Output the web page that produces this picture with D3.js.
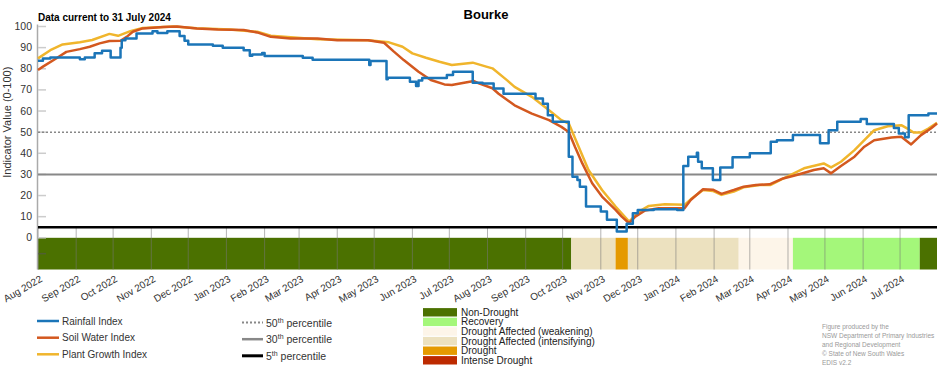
<!DOCTYPE html>
<html>
<head>
<meta charset="utf-8">
<script src="https://cdn.jsdelivr.net/npm/d3@7"></script>
<style>
    body { margin: 0; background: #fff; }
    svg { display: block; font-family: "Liberation Sans", Arial, sans-serif; }
</style>
</head>
<body>
<div class="chart"></div>
<script>
const rainfall = [
    ["2022-08-01", 83.8], ["2022-08-05", 84.9], ["2022-08-11", 85.3], ["2022-09-04", 84.5],
    ["2022-09-08", 85.3], ["2022-09-16", 87.3], ["2022-09-22", 88.5], ["2022-09-29", 85.3],
    ["2022-10-07", 90.0], ["2022-10-08", 93.5], ["2022-10-11", 94.3], ["2022-10-20", 96.7],
    ["2022-11-02", 97.8], ["2022-11-06", 96.9], ["2022-11-14", 97.8], ["2022-11-24", 95.5],
    ["2022-11-28", 93.2], ["2022-12-01", 91.5], ["2022-12-21", 90.9], ["2022-12-29", 89.9],
    ["2023-01-15", 88.8], ["2023-01-20", 86.2], ["2023-01-22", 86.8], ["2023-01-30", 87.4],
    ["2023-02-01", 86.0], ["2023-03-04", 85.2], ["2023-03-12", 84.3], ["2023-04-27", 81.8],
    ["2023-04-28", 83.7], ["2023-05-11", 75.0], ["2023-05-12", 75.8], ["2023-05-30", 73.9],
    ["2023-06-04", 71.9], ["2023-06-06", 74.5], ["2023-06-09", 75.6], ["2023-06-29", 77.0],
    ["2023-07-04", 78.6], ["2023-07-20", 73.4], ["2023-07-28", 73.0], ["2023-08-06", 70.6],
    ["2023-08-14", 68.2], ["2023-09-09", 65.9], ["2023-09-15", 63.5], ["2023-09-19", 58.0],
    ["2023-09-23", 54.9], ["2023-10-06", 38.4], ["2023-10-09", 28.9], ["2023-10-13", 27.4],
    ["2023-10-15", 24.2], ["2023-10-20", 14.8], ["2023-11-01", 12.4], ["2023-11-06", 8.5],
    ["2023-11-14", 3.0], ["2023-11-22", 6.6], ["2023-11-27", 11.6], ["2023-12-01", 13.2],
    ["2023-12-14", 13.5], ["2024-01-02", 13.2], ["2024-01-07", 34.0], ["2024-01-11", 38.4],
    ["2024-01-18", 40.3], ["2024-01-19", 36.0], ["2024-01-22", 32.9], ["2024-01-31", 27.4],
    ["2024-02-06", 33.3], ["2024-02-16", 38.1], ["2024-03-01", 40.0], ["2024-03-18", 45.4],
    ["2024-03-23", 46.2], ["2024-04-05", 48.6], ["2024-04-27", 44.7], ["2024-05-04", 50.9],
    ["2024-05-11", 54.9], ["2024-05-30", 56.2], ["2024-06-04", 53.8], ["2024-06-26", 52.0],
    ["2024-06-30", 49.4], ["2024-07-05", 47.6], ["2024-07-08", 58.0], ["2024-07-24", 58.8],
    ["2024-07-31", 58.8]
];

const soilWater = [
    ["2022-08-01", 79.4], ["2022-08-05", 81.0], ["2022-08-16", 85.0], ["2022-08-24", 88.0],
    ["2022-09-04", 89.3], ["2022-09-12", 90.4], ["2022-09-20", 92.0], ["2022-09-28", 93.1],
    ["2022-10-07", 93.2], ["2022-10-12", 95.1], ["2022-10-17", 97.5], ["2022-10-25", 99.1],
    ["2022-11-11", 99.8], ["2022-11-22", 100], ["2022-12-08", 99.1], ["2022-12-25", 98.6],
    ["2023-01-15", 98.3], ["2023-01-26", 97.2], ["2023-02-06", 95.1], ["2023-02-22", 94.3],
    ["2023-03-16", 94.3], ["2023-04-01", 93.5], ["2023-04-26", 93.5], ["2023-05-09", 92.3],
    ["2023-05-17", 88.1], ["2023-05-25", 84.1], ["2023-06-06", 78.6], ["2023-06-16", 74.7],
    ["2023-06-27", 72.6], ["2023-07-03", 72.3], ["2023-07-13", 73.4], ["2023-07-21", 74.2],
    ["2023-07-25", 73.1], ["2023-08-05", 70.8], ["2023-08-10", 68.2], ["2023-08-23", 62.7],
    ["2023-09-06", 58.8], ["2023-09-20", 55.7], ["2023-09-30", 52.5], ["2023-10-06", 50.1],
    ["2023-10-11", 43.1], ["2023-10-17", 35.2], ["2023-10-25", 25.8], ["2023-11-02", 19.5],
    ["2023-11-13", 13.2], ["2023-11-18", 10.0], ["2023-11-24", 6.9], ["2023-11-29", 10.0],
    ["2023-12-07", 12.9], ["2023-12-18", 14.0], ["2023-12-31", 14.0], ["2024-01-08", 14.0],
    ["2024-01-13", 17.9], ["2024-01-23", 23.0], ["2024-01-31", 22.8], ["2024-02-07", 20.8],
    ["2024-02-17", 22.6], ["2024-02-25", 24.2], ["2024-03-06", 25.0], ["2024-03-17", 25.3],
    ["2024-03-28", 28.1], ["2024-04-08", 29.7], ["2024-04-22", 32.1], ["2024-04-30", 32.9],
    ["2024-05-06", 30.5], ["2024-05-14", 34.0], ["2024-05-25", 38.4], ["2024-06-02", 43.1],
    ["2024-06-10", 46.2], ["2024-06-24", 47.5], ["2024-07-02", 47.8], ["2024-07-10", 44.2],
    ["2024-07-18", 48.6], ["2024-07-26", 51.7], ["2024-07-31", 54.1]
];

const plantGrowth = [
    ["2022-08-01", 84.9], ["2022-08-11", 88.8], ["2022-08-21", 91.5], ["2022-09-04", 92.5],
    ["2022-09-14", 93.6], ["2022-09-28", 96.5], ["2022-10-05", 95.6], ["2022-10-15", 97.8],
    ["2022-10-25", 99.3], ["2022-11-19", 100], ["2022-12-08", 99.2], ["2023-01-04", 98.6],
    ["2023-01-26", 97.5], ["2023-02-06", 95.6], ["2023-03-16", 94.0], ["2023-04-26", 93.5],
    ["2023-05-13", 92.5], ["2023-05-24", 90.4], ["2023-06-01", 87.3], ["2023-06-12", 85.2],
    ["2023-06-23", 83.3], ["2023-07-03", 81.8], ["2023-07-20", 82.9], ["2023-07-31", 81.0],
    ["2023-08-05", 80.2], ["2023-08-17", 74.5], ["2023-08-23", 71.4], ["2023-09-06", 66.7],
    ["2023-09-20", 60.4], ["2023-09-30", 55.7], ["2023-10-06", 54.1], ["2023-10-14", 43.1],
    ["2023-10-22", 32.1], ["2023-11-02", 22.6], ["2023-11-13", 14.8], ["2023-11-24", 7.7],
    ["2023-12-02", 12.4], ["2023-12-10", 15.1], ["2023-12-23", 15.9], ["2024-01-08", 15.6],
    ["2024-01-13", 18.2], ["2024-01-23", 22.6], ["2024-01-31", 22.2], ["2024-02-07", 20.3],
    ["2024-02-17", 21.9], ["2024-02-25", 23.9], ["2024-03-09", 25.0], ["2024-03-18", 25.0],
    ["2024-03-31", 28.9], ["2024-04-14", 32.9], ["2024-04-30", 35.2], ["2024-05-06", 33.3],
    ["2024-05-14", 36.0], ["2024-05-25", 41.5], ["2024-06-02", 46.2], ["2024-06-10", 50.9],
    ["2024-06-21", 52.8], ["2024-07-02", 53.3], ["2024-07-07", 51.7], ["2024-07-12", 49.8],
    ["2024-07-18", 49.8], ["2024-07-24", 51.7], ["2024-07-31", 54.4]
];

// drought stage bar along the bottom
const stageStarts = ["2022-08-01", "2023-10-08", "2023-11-13", "2023-11-23", "2024-02-21", "2024-04-05", "2024-07-17"];
const stageNames = ["Non-Drought", "Drought Affected (intensifying)", "Drought", "Drought Affected (intensifying)",
    "Drought Affected (weakening)", "Recovery", "Non-Drought"];
const dataEnd = "2024-07-31";

const droughtCategories = ["Non-Drought", "Recovery", "Drought Affected (weakening)",
    "Drought Affected (intensifying)", "Drought", "Intense Drought"];
const droughtColors = ["#4b7100", "#a4f77a", "#fdf5e9", "#ece1bf", "#e59a00", "#bd2a00"];

const seriesNames = ["Rainfall Index", "Soil Water Index", "Plant Growth Index"];
const seriesColors = ["#1b75b8", "#d3581f", "#f0b52c"];

const percentiles = [50, 30, 5];
const yTicks = [0, 10, 20, 30, 40, 50, 60, 70, 80, 90, 100];

const drawChart = () => {
    const w = 952;
    const h = 370;
    const parse = d3.timeParse("%Y-%m-%d");

    const x = d3.scaleTime()
        .domain([parse("2022-08-01"), parse(dataEnd)])
        .range([38, 937]);
    const y = d3.scaleLinear()
        .domain([-15, 100])
        .range([269.5, 26.5]);

    const svg = d3.select(".chart")
        .append("svg")
        .attr("width", w)
        .attr("height", h);

    // stage bar
    const stages = stageStarts.map((s, i) => ({
        start: parse(s),
        end: parse(i < stageStarts.length - 1 ? stageStarts[i + 1] : dataEnd),
        name: stageNames[i]
    }));
    const stageColour = d3.scaleOrdinal().domain(droughtCategories).range(droughtColors);

    svg.append("g")
        .selectAll("rect")
        .data(stages)
        .enter()
        .append("rect")
        .attr("x", d => x(d.start))
        .attr("y", y(0))
        .attr("width", d => x(d.end) - x(d.start))
        .attr("height", y(-15) - y(0))
        .attr("fill", d => stageColour(d.name));

    // month ticks
    const months = d3.timeMonth.range(parse("2022-08-01"), parse("2024-07-31"));
    svg.append("g")
        .selectAll("line")
        .data(months)
        .enter()
        .append("line")
        .attr("x1", d => x(d))
        .attr("x2", d => x(d))
        .attr("y1", y(5))
        .attr("y2", y(-15))
        .attr("stroke", "#777")
        .attr("stroke-opacity", 0.55)
        .attr("stroke-width", 1);

    svg.append("g")
        .selectAll("text")
        .data(months)
        .enter()
        .append("text")
        .attr("transform", d => `translate(${x(d) + 5}, 281) rotate(-30)`)
        .attr("text-anchor", "end")
        .attr("font-size", 10)
        .attr("fill", "#333")
        .text(d3.timeFormat("%b %Y"));

    // y axis
    const yAxis = svg.append("g");
    yAxis.append("line")
        .attr("x1", 37.5).attr("x2", 37.5)
        .attr("y1", y(100) - 2).attr("y2", y(-15))
        .attr("stroke", "#aaa")
        .attr("stroke-width", 1.5);
    yAxis.selectAll(".tick")
        .data(yTicks.concat([-7.5]))
        .enter()
        .append("line")
        .attr("x1", 38).attr("x2", 46)
        .attr("y1", d => y(d)).attr("y2", d => y(d))
        .attr("stroke", d => d < 0 ? "#555" : "#ccc")
        .attr("stroke-opacity", d => d < 0 ? 0.6 : 1)
        .attr("stroke-width", 1.5);
    yAxis.selectAll("text")
        .data(yTicks)
        .enter()
        .append("text")
        .attr("x", 32)
        .attr("y", d => y(d) + 3.5)
        .attr("text-anchor", "end")
        .attr("font-size", 10.5)
        .attr("fill", "#333")
        .text(d => d);

    svg.append("text")
        .attr("transform", `translate(11, ${y(50) - 10}) rotate(-90)`)
        .attr("text-anchor", "middle")
        .attr("font-size", 11)
        .attr("fill", "#333")
        .text("Indicator Value (0-100)");

    // percentile lines
    const pStyle = {
        50: { c: "#888", w: 1.5, dash: "2,2" },
        30: { c: "#888", w: 2, dash: null },
        5: { c: "#000", w: 2.5, dash: null }
    };
    svg.append("g")
        .selectAll("line")
        .data(percentiles)
        .enter()
        .append("line")
        .attr("x1", 38).attr("x2", 937)
        .attr("y1", d => y(d)).attr("y2", d => y(d))
        .attr("stroke", d => pStyle[d].c)
        .attr("stroke-width", d => pStyle[d].w)
        .attr("stroke-dasharray", d => pStyle[d].dash);

    // index lines
    const toPoints = arr => arr.map(d => [parse(d[0]), d[1]]);
    const stepLine = d3.line()
        .x(d => x(d[0]))
        .y(d => y(d[1]))
        .curve(d3.curveStepAfter);
    const smoothLine = d3.line()
        .x(d => x(d[0]))
        .y(d => y(d[1]));

    svg.append("path")
        .attr("d", smoothLine(toPoints(plantGrowth)))
        .attr("fill", "none")
        .attr("stroke", seriesColors[2])
        .attr("stroke-width", 2.5)
        .attr("stroke-linejoin", "round");
    svg.append("path")
        .attr("d", smoothLine(toPoints(soilWater)))
        .attr("fill", "none")
        .attr("stroke", seriesColors[1])
        .attr("stroke-width", 2.5)
        .attr("stroke-linejoin", "round");
    svg.append("path")
        .attr("d", stepLine(toPoints(rainfall)))
        .attr("fill", "none")
        .attr("stroke", seriesColors[0])
        .attr("stroke-width", 2.5)
        .attr("stroke-linejoin", "round");

    // titles
    svg.append("text")
        .attr("x", 486)
        .attr("y", 19)
        .attr("text-anchor", "middle")
        .attr("font-size", 13)
        .attr("font-weight", "bold")
        .text("Bourke");
    svg.append("text")
        .attr("x", 38)
        .attr("y", 21)
        .attr("font-size", 10)
        .attr("font-weight", "bold")
        .text("Data current to 31 July 2024");

    // legend: indices
    const legRows = [321, 337.7, 354.3];
    const leg1 = svg.append("g");
    seriesNames.forEach((name, i) => {
        leg1.append("line")
            .attr("x1", 37).attr("x2", 59)
            .attr("y1", legRows[i]).attr("y2", legRows[i])
            .attr("stroke", seriesColors[i])
            .attr("stroke-width", 2.5);
        leg1.append("text")
            .attr("x", 62)
            .attr("y", legRows[i] + 3.5)
            .attr("font-size", 10)
            .attr("fill", "#333")
            .text(name);
    });

    // legend: percentiles
    const leg2 = svg.append("g");
    percentiles.forEach((p, i) => {
        const yy = legRows[i] + 1.5;
        leg2.append("line")
            .attr("x1", 242).attr("x2", 263)
            .attr("y1", yy).attr("y2", yy)
            .attr("stroke", pStyle[p].c)
            .attr("stroke-width", pStyle[p].w + 0.5)
            .attr("stroke-dasharray", pStyle[p].dash);
        const t = leg2.append("text")
            .attr("x", 266)
            .attr("y", yy + 4)
            .attr("font-size", 10.5)
            .attr("fill", "#333");
        t.append("tspan").text(p);
        t.append("tspan").attr("dy", -4).attr("font-size", 7).text("th");
        t.append("tspan").attr("dy", 4).text(" percentile");
    });

    // legend: drought stages
    const leg3 = svg.append("g");
    droughtCategories.forEach((name, i) => {
        const yy = 312.3 + i * 9.6;
        leg3.append("rect")
            .attr("x", 423).attr("y", yy - 4.2)
            .attr("width", 34).attr("height", 8.4)
            .attr("fill", droughtColors[i]);
        leg3.append("text")
            .attr("x", 461)
            .attr("y", yy + 3.5)
            .attr("font-size", 10)
            .attr("fill", "#222")
            .text(name);
    });

    // credits
    const credits = ["Figure produced by the", "NSW Department of Primary Industries",
        "and Regional Development", "\u00a9 State of New South Wales", "EDIS v2.2"];
    svg.append("g")
        .selectAll("text")
        .data(credits)
        .enter()
        .append("text")
        .attr("x", 822)
        .attr("y", (d, i) => 329 + i * 9)
        .attr("font-size", 6.5)
        .attr("fill", "#999")
        .text(d => d);
};

drawChart();
</script>
</body>
</html>
